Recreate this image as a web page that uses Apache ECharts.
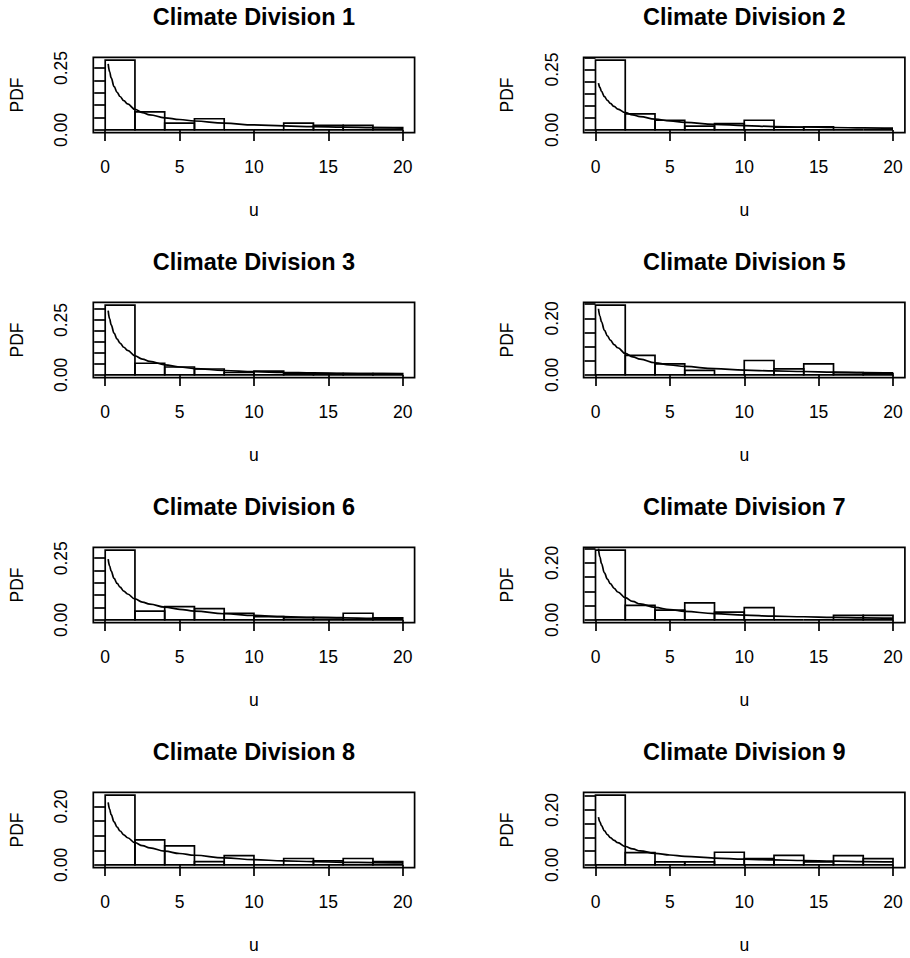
<!DOCTYPE html>
<html>
<head>
<meta charset="utf-8">
<script src="https://cdn.jsdelivr.net/npm/echarts@6/dist/echarts.min.js"></script>
<style>html,body{margin:0;padding:0;background:#fff}#c{width:910px;height:958px}</style>
</head>
<body>
<div id="c"></div>
<script>
// ---- data ----
const panelTitles = ['Climate Division 1','Climate Division 2','Climate Division 3','Climate Division 5',
                     'Climate Division 6','Climate Division 7','Climate Division 8','Climate Division 9'];
const binStarts = [0,2,4,6,8,10,12,14,16,18];
const binWidth = 2;
const xTickValues = [0,5,10,15,20];
const xLabel = 'u';
const yLabel = 'PDF';

// histogram densities (one value per bin of width 2)
const hist1 = [0.282,0.073,0.027,0.045,0,0,0.027,0.018,0.018,0.009];
const hist2 = [0.289,0.066,0.040,0.016,0.026,0.040,0.011,0.013,0,0];
const hist3 = [0.318,0.053,0.036,0.027,0.011,0.017,0.008,0.006,0.006,0.006];
const hist5 = [0.247,0.069,0.039,0.016,0,0.051,0.021,0.039,0.008,0.005];
const hist6 = [0.283,0.036,0.054,0.046,0.027,0.013,0.009,0.009,0.027,0.008];
const hist7 = [0.245,0.051,0.034,0.060,0.027,0.043,0,0,0.016,0.016];
const hist8 = [0.239,0.086,0.065,0.011,0.032,0,0.022,0.014,0.022,0.011];
const hist9 = [0.254,0.045,0.011,0.011,0.046,0.023,0.035,0.011,0.034,0.023];

// fitted density curve, sampled at curveU
const curveU = [0.2,0.3,0.4,0.6,0.8,1,1.25,1.5,2,2.5,3,4,5,6,8,10,12,14,16,18,20];
const curve1 = [0.267,0.235,0.210,0.175,0.152,0.135,0.118,0.105,0.083,0.070,0.061,0.049,0.042,0.036,0.027,0.020,0.016,0.013,0.011,0.009,0.007];
const curve2 = [0.194,0.175,0.160,0.138,0.122,0.110,0.097,0.086,0.072,0.062,0.055,0.045,0.037,0.031,0.023,0.018,0.014,0.012,0.010,0.008,0.007];
const curve3 = [0.293,0.255,0.228,0.190,0.163,0.145,0.126,0.112,0.087,0.072,0.062,0.046,0.036,0.029,0.020,0.015,0.011,0.009,0.007,0.006,0.005];
const curve5 = [0.234,0.207,0.188,0.158,0.138,0.123,0.107,0.096,0.076,0.064,0.056,0.043,0.035,0.030,0.022,0.017,0.014,0.012,0.010,0.008,0.007];
const curve6 = [0.246,0.218,0.198,0.168,0.148,0.133,0.117,0.105,0.085,0.072,0.064,0.052,0.043,0.036,0.025,0.018,0.013,0.010,0.008,0.006,0.005];
const curve7 = [0.250,0.220,0.198,0.165,0.143,0.127,0.111,0.098,0.078,0.065,0.056,0.044,0.036,0.030,0.022,0.017,0.013,0.011,0.009,0.007,0.006];
const curve8 = [0.214,0.190,0.172,0.147,0.129,0.116,0.103,0.093,0.076,0.066,0.058,0.047,0.039,0.033,0.024,0.018,0.014,0.011,0.009,0.008,0.007];
const curve9 = [0.174,0.156,0.143,0.124,0.110,0.099,0.089,0.081,0.067,0.058,0.051,0.042,0.036,0.031,0.025,0.021,0.018,0.016,0.014,0.012,0.011];

// y tick labels shown on each panel
const yLabelValues = [[0,0.25],[0,0.25],[0,0.25],[0,0.20],[0,0.25],[0,0.20],[0,0.20],[0,0.20]];
const yTickStep = 0.05;

// ---- build chart ----
const hists = [hist1,hist2,hist3,hist5,hist6,hist7,hist8,hist9];
const curves = [curve1,curve2,curve3,curve5,curve6,curve7,curve8,curve9];
const FONT = '"Liberation Sans", Arial, Helvetica, sans-serif';
const LW = 1.7;
const AX_FS = 17.5;
const grids = [], xAxes = [], yAxes = [], series = [], graphics = [];

panelTitles.forEach((title, i) => {
  const col = i % 2, row = Math.floor(i / 2);
  const left = 93.3 + 490.3 * col, top = 57.3 + 245 * row, w = 321.3, h = 75.4;
  const hmax = Math.max(...hists[i]);
  const yMin = -0.04 * hmax, yMax = 1.04 * hmax;
  const yTicks = [];
  for (let k = 0; k * yTickStep <= yMax + 1e-9; k++) yTicks.push(+(k * yTickStep).toFixed(2));

  grids.push({left: left, top: top, width: w, height: h, show: true,
              borderColor: '#000', borderWidth: LW, backgroundColor: 'transparent', containLabel: false});
  xAxes.push({
    type: 'value', gridIndex: i, min: -0.8, max: 20.8,
    axisLine: {show: false}, splitLine: {show: false},
    axisTick: {show: true, inside: false, length: 11, customValues: xTickValues,
               lineStyle: {color: '#000', width: LW}},
    axisLabel: {show: true, customValues: xTickValues, margin: 25, color: '#000',
                fontSize: AX_FS, fontFamily: FONT, hideOverlap: false,
                formatter: v => String(v)}
  });
  yAxes.push({
    type: 'value', gridIndex: i, min: yMin, max: yMax,
    axisLine: {show: false}, splitLine: {show: false},
    axisTick: {show: true, inside: false, length: 11, customValues: yTicks,
               lineStyle: {color: '#000', width: LW}},
    axisLabel: {show: true, customValues: yLabelValues[i], rotate: 90, margin: 23, color: '#000',
                fontSize: AX_FS, fontFamily: FONT, hideOverlap: false,
                formatter: v => Number(v).toFixed(2)}
  });
  series.push({
    type: 'custom', xAxisIndex: i, yAxisIndex: i, clip: false, z: 2,
    data: binStarts.map((s, k) => [s, s + binWidth, hists[i][k]]),
    encode: {x: [0, 1], y: 2},
    renderItem: (params, api) => {
      const p0 = api.coord([api.value(0), 0]);
      const p1 = api.coord([api.value(1), api.value(2)]);
      return {type: 'rect',
              shape: {x: p0[0], y: p1[1], width: p1[0] - p0[0], height: p0[1] - p1[1]},
              style: {fill: 'none', stroke: '#000', lineWidth: LW}};
    }
  });
  series.push({
    type: 'line', xAxisIndex: i, yAxisIndex: i, z: 3,
    data: curveU.map((u, k) => [u, curves[i][k]]),
    smooth: 0.4, smoothMonotone: 'x', symbol: 'none', showSymbol: false,
    lineStyle: {color: '#000', width: LW}
  });

  graphics.push({type: 'text', x: left + w / 2, y: 16.5 + 245 * row,
    style: {text: title, fill: '#000', fontSize: 23.5, fontWeight: 'bold',
            fontFamily: FONT, align: 'center', verticalAlign: 'middle',
            textAlign: 'center', textVerticalAlign: 'middle'}});
  graphics.push({type: 'text', x: 17 + 490.3 * col, y: top + h / 2, rotation: Math.PI / 2,
    style: {text: yLabel, fill: '#000', fontSize: AX_FS, fontFamily: FONT,
            align: 'center', verticalAlign: 'middle', textAlign: 'center', textVerticalAlign: 'middle'}});
  graphics.push({type: 'text', x: left + w / 2, y: 210 + 245 * row,
    style: {text: xLabel, fill: '#000', fontSize: AX_FS, fontFamily: FONT,
            align: 'center', verticalAlign: 'middle', textAlign: 'center', textVerticalAlign: 'middle'}});
});

const chart = echarts.init(document.getElementById('c'), null, {renderer: 'svg', width: 910, height: 958});
chart.setOption({
  animation: false,
  backgroundColor: '#fff',
  grid: grids, xAxis: xAxes, yAxis: yAxes, series: series, graphic: graphics
});
</script>
</body>
</html>
